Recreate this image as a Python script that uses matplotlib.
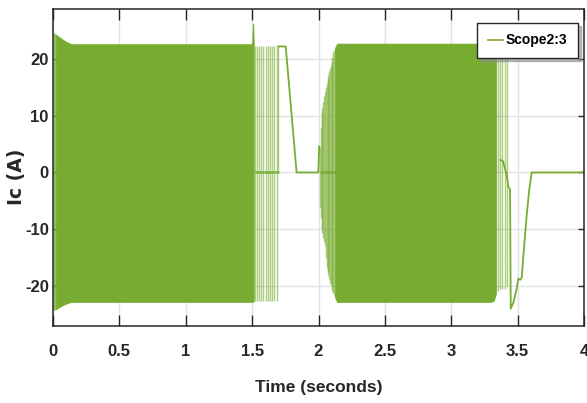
import matplotlib
matplotlib.use("Agg")
import matplotlib.pyplot as plt
import numpy as np

GREEN = "#77AC30"

# dense switching blocks: envelope
dense1_t = [0.02, 0.05, 0.08, 0.11, 0.14, 1.50, 1.504, 1.508, 1.512]
dense1_top = [24.3, 23.8, 23.3, 22.9, 22.6, 22.6, 25.0, 26.2, 23.0]
dense1_bot = [-24.1, -23.7, -23.3, -23.0, -22.8, -22.8, -22.8, -22.7, -22.7]

dense2_t = [2.124, 2.14, 3.30, 3.32, 3.335]
dense2_top = [21.9, 22.7, 22.7, 23.6, 24.6]
dense2_bot = [-22.0, -22.8, -22.8, -22.6, -21.5]

# isolated switching pulses (thin vertical strokes)
pulse_t = [0.004, 0.009, 0.014,
           1.522, 1.534, 1.552, 1.567, 1.584, 1.602, 1.617, 1.635, 1.647, 1.667, 1.685, 1.697,
           2.012, 2.018, 2.024, 2.030, 2.036, 2.043, 2.049, 2.055, 2.061, 2.068, 2.074,
           2.080, 2.086, 2.093, 2.099, 2.105, 2.112, 2.118,
           3.340, 3.354, 3.368, 3.380, 3.405, 3.422]
pulse_top = [24.5, 24.5, 24.4,
             22.3, 22.3, 22.3, 22.3, 22.3, 22.3, 22.3, 22.3, 22.3, 22.3, 22.3, 22.2,
             4.5, 8.0, 10.6, 11.6, 12.5, 13.4, 14.2, 15.0, 15.8, 16.5, 17.1,
             17.8, 18.4, 19.0, 19.5, 20.4, 21.2, 21.6,
             24.7, 24.5, 24.0, 23.5, 22.5, 22.0]
pulse_bot = [-24.3, -24.3, -24.2,
             -22.7, -22.7, -22.7, -22.7, -22.7, -22.7, -22.7, -22.7, -22.7, -22.7, -22.7, 0.0,
             -6.0, -8.0, -9.9, -10.7, -11.5, -12.2, -12.9, -15.0, -16.9, -17.5, -18.0,
             -18.7, -19.4, -19.9, -20.3, -20.8, -21.2, -21.6,
             -21.0, -20.8, -20.6, -20.5, -20.5, -20.0]

# slow parts of the trace
trace1_t = [1.697, 1.753, 1.835, 1.999, 2.005]
trace1_v = [22.2, 22.2, 0.0, 0.0, 4.6]

trace2_t = [3.37, 3.39, 3.418, 3.43, 3.443, 3.448, 3.468, 3.493, 3.505, 3.52, 3.531,
            3.543, 3.568, 3.588, 3.606, 4.0]
trace2_v = [2.2, 2.0, -0.5, -2.5, -3.0, -24.0, -22.9, -20.5, -18.7, -18.9, -18.5,
            -14.7, -7.6, -2.9, 0.0, 0.0]

# short stretches sitting on zero
zero_start = [0.0, 1.52, 2.01]
zero_end = [0.03, 1.70, 2.14]

xticks = [0, 0.5, 1, 1.5, 2, 2.5, 3, 3.5, 4]
xticklabels = ["0", "0.5", "1", "1.5", "2", "2.5", "3", "3.5", "4"]
yticks = [-20, -10, 0, 10, 20]

plt.rcParams["font.family"] = ["Liberation Sans Narrow", "Liberation Sans", "DejaVu Sans"]
plt.rcParams["font.weight"] = "bold"
plt.rcParams["axes.unicode_minus"] = False

fig = plt.figure(figsize=(5.87, 4.03), dpi=100)
ax = fig.add_axes([53 / 587, 77 / 403, 531 / 587, 317 / 403])

ax.fill_between(dense1_t, dense1_bot, dense1_top, color=GREEN, lw=0.6)
ax.fill_between(dense2_t, dense2_bot, dense2_top, color=GREEN, lw=0.6)
ax.vlines(pulse_t, pulse_bot, pulse_top, color=GREEN, lw=1.0, alpha=0.6)
ax.plot(trace1_t, trace1_v, color=GREEN, lw=1.3)
ax.plot(trace2_t, trace2_v, color=GREEN, lw=1.3)
ax.hlines(np.zeros(len(zero_start)), zero_start, zero_end, color=GREEN, lw=2, alpha=0.8)
# legend handle
ax.plot([], [], color=GREEN, lw=1.2, label="Scope2:3")

ax.set_xlim(0, 4)
ax.set_ylim(-27.05, 28.8)
ax.set_xticks(xticks)
ax.set_xticklabels(xticklabels)
ax.set_yticks(yticks)
ax.grid(True, color="#e3e3e3", lw=1)
ax.set_axisbelow(True)

ax.tick_params(direction="in", top=True, right=True, labelsize=12,
               colors="#262626", width=1)
ax.tick_params(axis="x", length=8, pad=13)
ax.tick_params(axis="y", length=4, pad=3)
for s in ax.spines.values():
    s.set_color("#262626")
    s.set_linewidth(1.1)

ax.set_xlabel("Time (seconds)", fontsize=12.5, fontweight="bold", color="#262626")
ax.xaxis.set_label_coords(0.5, -0.17)
ax.set_ylabel("Ic (A)", fontsize=13.5, fontweight="bold", family="DejaVu Sans",
              color="#262626")
ax.yaxis.set_label_coords(-0.05, 0.47)

leg = ax.legend(loc="upper right", bbox_to_anchor=(578 / 587, 1 - 23 / 403),
                bbox_transform=fig.transFigure, borderaxespad=0, fancybox=False,
                edgecolor="#262626", framealpha=1, fontsize=10, handlelength=1.1,
                handletextpad=0.2, borderpad=0.75,
                shadow={"color": "0.55", "alpha": 0.6})
leg.get_frame().set_linewidth(1)

fig.savefig("out.png", dpi=100)
